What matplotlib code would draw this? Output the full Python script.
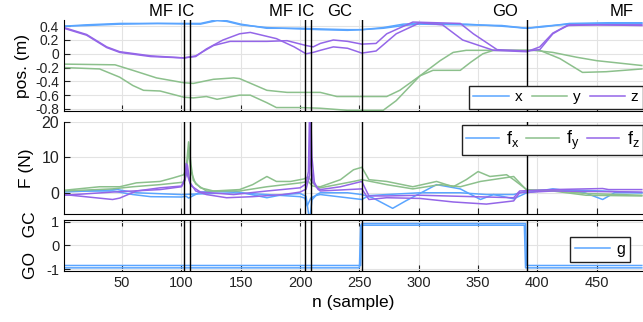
import matplotlib
matplotlib.use('Agg')
import matplotlib.pyplot as plt

plt.rcParams['font.family'] = ['Liberation Sans', 'DejaVu Sans']
plt.rcParams['axes.unicode_minus'] = False
plt.rcParams['mathtext.fontset'] = 'custom'
plt.rcParams['mathtext.rm'] = 'Liberation Sans'
plt.rcParams['mathtext.it'] = 'Liberation Sans'

blue = '#5aa5ff'
green = '#8cc08c'
purple = '#9466e8'

# event markers
events = [102, 107, 204, 209, 252, 391]
event_labels = ['MF IC', 'MF IC', 'GC', 'GO', 'MF']
event_label_x = [92, 193, 233, 373, 471]

# position (m), two trials per component
x1_n = [1, 20, 48, 80, 116, 124, 130, 138, 150, 172, 200, 217, 240, 252, 270, 287, 300, 340, 370, 391, 405, 427, 460, 488]
x1 = [0.40, 0.42, 0.44, 0.44, 0.44, 0.47, 0.50, 0.48, 0.43, 0.37, 0.37, 0.36, 0.35, 0.35, 0.37, 0.41, 0.43, 0.42, 0.41, 0.37, 0.39, 0.44, 0.45, 0.45]
x2 = [0.40, 0.41, 0.43, 0.44, 0.43, 0.46, 0.48, 0.47, 0.42, 0.38, 0.36, 0.35, 0.34, 0.35, 0.38, 0.43, 0.44, 0.43, 0.40, 0.37, 0.40, 0.43, 0.44, 0.44]

yC_n = [1, 44, 59, 79, 102, 110, 127, 144, 149, 172, 189, 217, 231, 273, 284, 301, 312, 335, 344, 354, 363, 397, 413, 433, 450, 488]
yC = [-0.15, -0.16, -0.24, -0.35, -0.42, -0.43, -0.37, -0.35, -0.36, -0.53, -0.56, -0.56, -0.62, -0.62, -0.53, -0.32, -0.24, -0.24, -0.12, 0.00, 0.05, 0.05, 0.02, -0.05, -0.10, -0.17]
yD_n = [1, 31, 48, 59, 68, 82, 102, 110, 121, 130, 149, 158, 172, 180, 200, 217, 240, 270, 281, 301, 318, 329, 340, 385, 402, 419, 438, 458, 488]
yD = [-0.20, -0.22, -0.34, -0.46, -0.53, -0.54, -0.63, -0.64, -0.62, -0.66, -0.60, -0.60, -0.71, -0.78, -0.78, -0.79, -0.82, -0.82, -0.68, -0.32, -0.10, 0.02, 0.05, 0.05, 0.05, -0.07, -0.27, -0.26, -0.22]

zA_n = [1, 20, 37, 48, 74, 102, 112, 121, 135, 149, 158, 180, 195, 205, 211, 217, 228, 240, 252, 264, 281, 301, 320, 337, 363, 391, 402, 413, 425, 450, 488]
zA = [0.38, 0.28, 0.10, 0.03, -0.03, -0.06, -0.04, 0.07, 0.20, 0.29, 0.31, 0.22, 0.10, 0.00, 0.02, 0.05, 0.10, 0.08, 0.01, 0.04, 0.29, 0.45, 0.42, 0.20, 0.05, 0.03, 0.10, 0.30, 0.41, 0.42, 0.41]
zB_n = [1, 20, 37, 48, 74, 102, 112, 127, 141, 172, 189, 205, 211, 217, 228, 240, 252, 264, 273, 295, 335, 346, 366, 391, 402, 413, 419, 427, 488]
zB = [0.37, 0.27, 0.09, 0.02, -0.04, -0.06, -0.03, 0.12, 0.18, 0.18, 0.19, 0.12, 0.10, 0.15, 0.20, 0.18, 0.14, 0.15, 0.29, 0.46, 0.44, 0.29, 0.06, 0.04, 0.06, 0.29, 0.35, 0.42, 0.42]

# force (N)
fx1_n = [1, 42, 59, 74, 100, 104, 106, 110, 116, 144, 172, 186, 200, 205, 208, 210, 214, 217, 240, 252, 261, 278, 289, 315, 335, 352, 363, 380, 391, 413, 440, 455, 465, 488]
fx1 = [0.5, 0.5, -0.5, -1.1, -1.2, -1.0, -1.5, -0.8, 0.2, 0.5, -1.4, -0.5, -0.2, -1.0, -8.0, -2.0, -0.5, 0.0, 0.0, -0.5, -1.4, -4.4, -2.3, 2.3, 1.1, -1.9, -0.5, -1.7, 0.0, 1.1, 0.0, -1.9, 0.0, 0.0]
fx2_n = [1, 46, 62, 100, 144, 172, 200, 204, 206, 209, 213, 217, 252, 258, 273, 301, 335, 357, 380, 391, 413, 455, 488]
fx2 = [0.2, 0.9, 0.0, -0.5, 0.0, -0.5, -1.1, -1.5, -3.7, -1.5, -0.8, -0.5, -1.9, -0.8, -0.5, 0.0, 0.0, -0.5, -0.5, 0.5, 0.9, 0.5, 0.0]

fy1_n = [1, 31, 48, 62, 82, 93, 102, 104, 106, 108, 110, 116, 127, 149, 160, 172, 180, 192, 203, 207, 210, 214, 217, 234, 245, 252, 258, 273, 295, 315, 329, 340, 350, 360, 374, 380, 391, 413, 441, 488]
fy1 = [0.7, 1.7, 1.7, 2.8, 3.2, 4.2, 5.1, 7.0, 14.4, 8.0, 3.5, 1.4, 0.5, 0.9, 2.3, 4.6, 3.2, 3.2, 3.9, 4.5, 3.0, 1.8, 1.7, 3.7, 6.5, 7.2, 3.7, 3.2, 1.7, 3.2, 1.7, 3.7, 6.0, 4.6, 5.1, 3.7, 0.9, 0.5, -0.7, -0.9]
fy2_n = [1, 42, 59, 82, 102, 104, 106, 108, 112, 121, 149, 172, 200, 207, 210, 217, 245, 252, 273, 295, 318, 335, 352, 380, 391, 413, 441, 488]
fy2 = [0.5, 1.1, 1.7, 2.3, 3.0, 5.0, 12.0, 6.0, 2.5, 0.5, 0.5, 1.7, 2.8, 3.2, 2.0, 1.4, 3.2, 3.7, 2.3, 1.1, 2.3, 1.7, 3.2, 4.6, 0.7, 0.6, -0.2, -0.7]

fz1_n = [1, 42, 48, 62, 82, 100, 103, 104, 105, 108, 116, 144, 172, 200, 205, 207, 208, 209, 211, 214, 217, 234, 252, 258, 273, 301, 357, 380, 385, 413, 455, 460, 488]
fz1 = [-0.5, -1.9, -1.5, 0.5, 1.4, 1.9, 4.0, 8.3, 5.0, 2.0, 0.2, -0.5, 0.5, 1.4, 2.5, 6.0, 24.0, 8.0, 3.0, 1.5, 0.9, 1.7, 3.2, -0.9, -0.9, -0.7, -1.2, -1.4, 0.5, 0.9, 1.2, 0.9, 0.9]
fz2_n = [1, 42, 59, 82, 100, 103, 105, 107, 112, 121, 138, 160, 186, 200, 205, 208, 209, 210, 212, 215, 217, 252, 258, 273, 301, 329, 357, 380, 385, 413, 488]
fz2 = [-0.7, 0.2, 0.5, 0.9, 1.7, 3.5, 7.9, 3.0, 0.5, -0.5, -1.4, -1.1, -0.5, 0.2, 1.0, 5.0, 22.0, 10.0, 3.0, 1.0, 0.5, 1.1, -1.9, -1.4, -1.6, -2.6, -3.2, -2.3, 0.0, 0.5, 0.2]

# grasp state
g1_n = [1, 251, 252, 390, 391, 488]
g1 = [-0.85, -0.85, 0.92, 0.92, -0.85, -0.85]
g2_n = [1, 250, 251, 389, 390, 488]
g2 = [-0.95, -0.95, 0.85, 0.85, -0.95, -0.95]

xticks = [50, 100, 150, 200, 250, 300, 350, 400, 450]

fig = plt.figure(figsize=(6.43, 3.22), dpi=100)
W, H = 643, 322
def box(top, bottom):
    return [64 / W, 1 - bottom / H, (W - 64) / W, (bottom - top) / H]

ax1 = fig.add_axes(box(20, 111))
ax2 = fig.add_axes(box(122, 214))
ax3 = fig.add_axes(box(220, 270.7))

lw = 1.1
ax1.plot(x1_n, x1, color=blue, lw=lw, label='x')
ax1.plot(x1_n, x2, color=blue, lw=lw)
ax1.plot(yC_n, yC, color=green, lw=lw, label='y')
ax1.plot(yD_n, yD, color=green, lw=lw)
ax1.plot(zA_n, zA, color=purple, lw=lw, label='z')
ax1.plot(zB_n, zB, color=purple, lw=lw)

ax2.plot(fx1_n, fx1, color=blue, lw=lw, label='$\\mathrm{f_x}$')
ax2.plot(fx2_n, fx2, color=blue, lw=lw)
ax2.plot(fy1_n, fy1, color=green, lw=lw, label='$\\mathrm{f_y}$')
ax2.plot(fy2_n, fy2, color=green, lw=lw)
ax2.plot(fz1_n, fz1, color=purple, lw=lw, label='$\\mathrm{f_z}$')
ax2.plot(fz2_n, fz2, color=purple, lw=lw)

ax3.plot(g1_n, g1, color=blue, lw=lw, label='g')
ax3.plot(g2_n, g2, color=blue, lw=lw)

for ax in (ax1, ax2, ax3):
    for e in events:
        ax.axvline(e, color='black', lw=1.0, zorder=3)
    ax.set_xlim(1, 489)
    ax.set_xticks(xticks)
    ax.grid(True, color='#e3e3e3', lw=0.8)
    ax.set_axisbelow(True)
    ax.tick_params(direction='in', length=4, width=0.8, colors='#222222')
    ax.spines['right'].set_visible(False)

for ax in (ax1, ax2):
    ax.spines['top'].set_visible(False)
    ax.tick_params(labelbottom=False)
ax3.tick_params(top=True)

ax1.set_ylim(-0.83, 0.49)
ax1.set_yticks([-0.8, -0.6, -0.4, -0.2, 0, 0.2, 0.4])
ax1.set_yticklabels(['-0.8', '-0.6', '-0.4', '-0.2', '0', '0.2', '0.4'], fontsize=10)
ax1.set_ylabel('pos. (m)', fontsize=12.5, labelpad=4)

ax2.set_ylim(-6, 20)
ax2.set_yticks([0, 10, 20])
ax2.set_yticklabels(['0', '10', '20'], fontsize=11.5)
ax2.set_ylabel('F (N)', fontsize=12.5, labelpad=5)

ax3.set_ylim(-1.07, 1.07)
ax3.set_yticks([-1, 0, 1])
ax3.set_yticklabels(['-1', '0', '1'], fontsize=10.5)
ax3.set_ylabel('GO   GC', fontsize=12.5, labelpad=6)
ax3.set_xticklabels([str(t) for t in xticks], fontsize=10.5)
ax3.set_xlabel('n (sample)', fontsize=12.5, labelpad=4)

for lx, lt in zip(event_label_x, event_labels):
    ax1.text(lx, 1.09, lt, transform=ax1.get_xaxis_transform(), ha='center', va='center', fontsize=12)

leg_kw = dict(frameon=True, fancybox=False, edgecolor='#222222', framealpha=1, borderaxespad=0, handletextpad=0.4)
l1 = ax1.legend(ncol=3, loc='lower right', bbox_to_anchor=(1.0, 0.022), fontsize=11, borderpad=0.3, handlelength=2.3, columnspacing=0.6, **leg_kw)
l2 = ax2.legend(ncol=3, loc='upper right', bbox_to_anchor=(1.0, 0.967), fontsize=13, borderpad=0.2, handlelength=1.8, columnspacing=0.4, **leg_kw)
l3 = ax3.legend(loc='upper right', bbox_to_anchor=(0.9775, 0.665), fontsize=11.5, borderpad=0.3, handlelength=2.2, **leg_kw)
for l in (l1, l2, l3):
    l.get_frame().set_linewidth(1.0)

fig.savefig('out.png', dpi=100)
